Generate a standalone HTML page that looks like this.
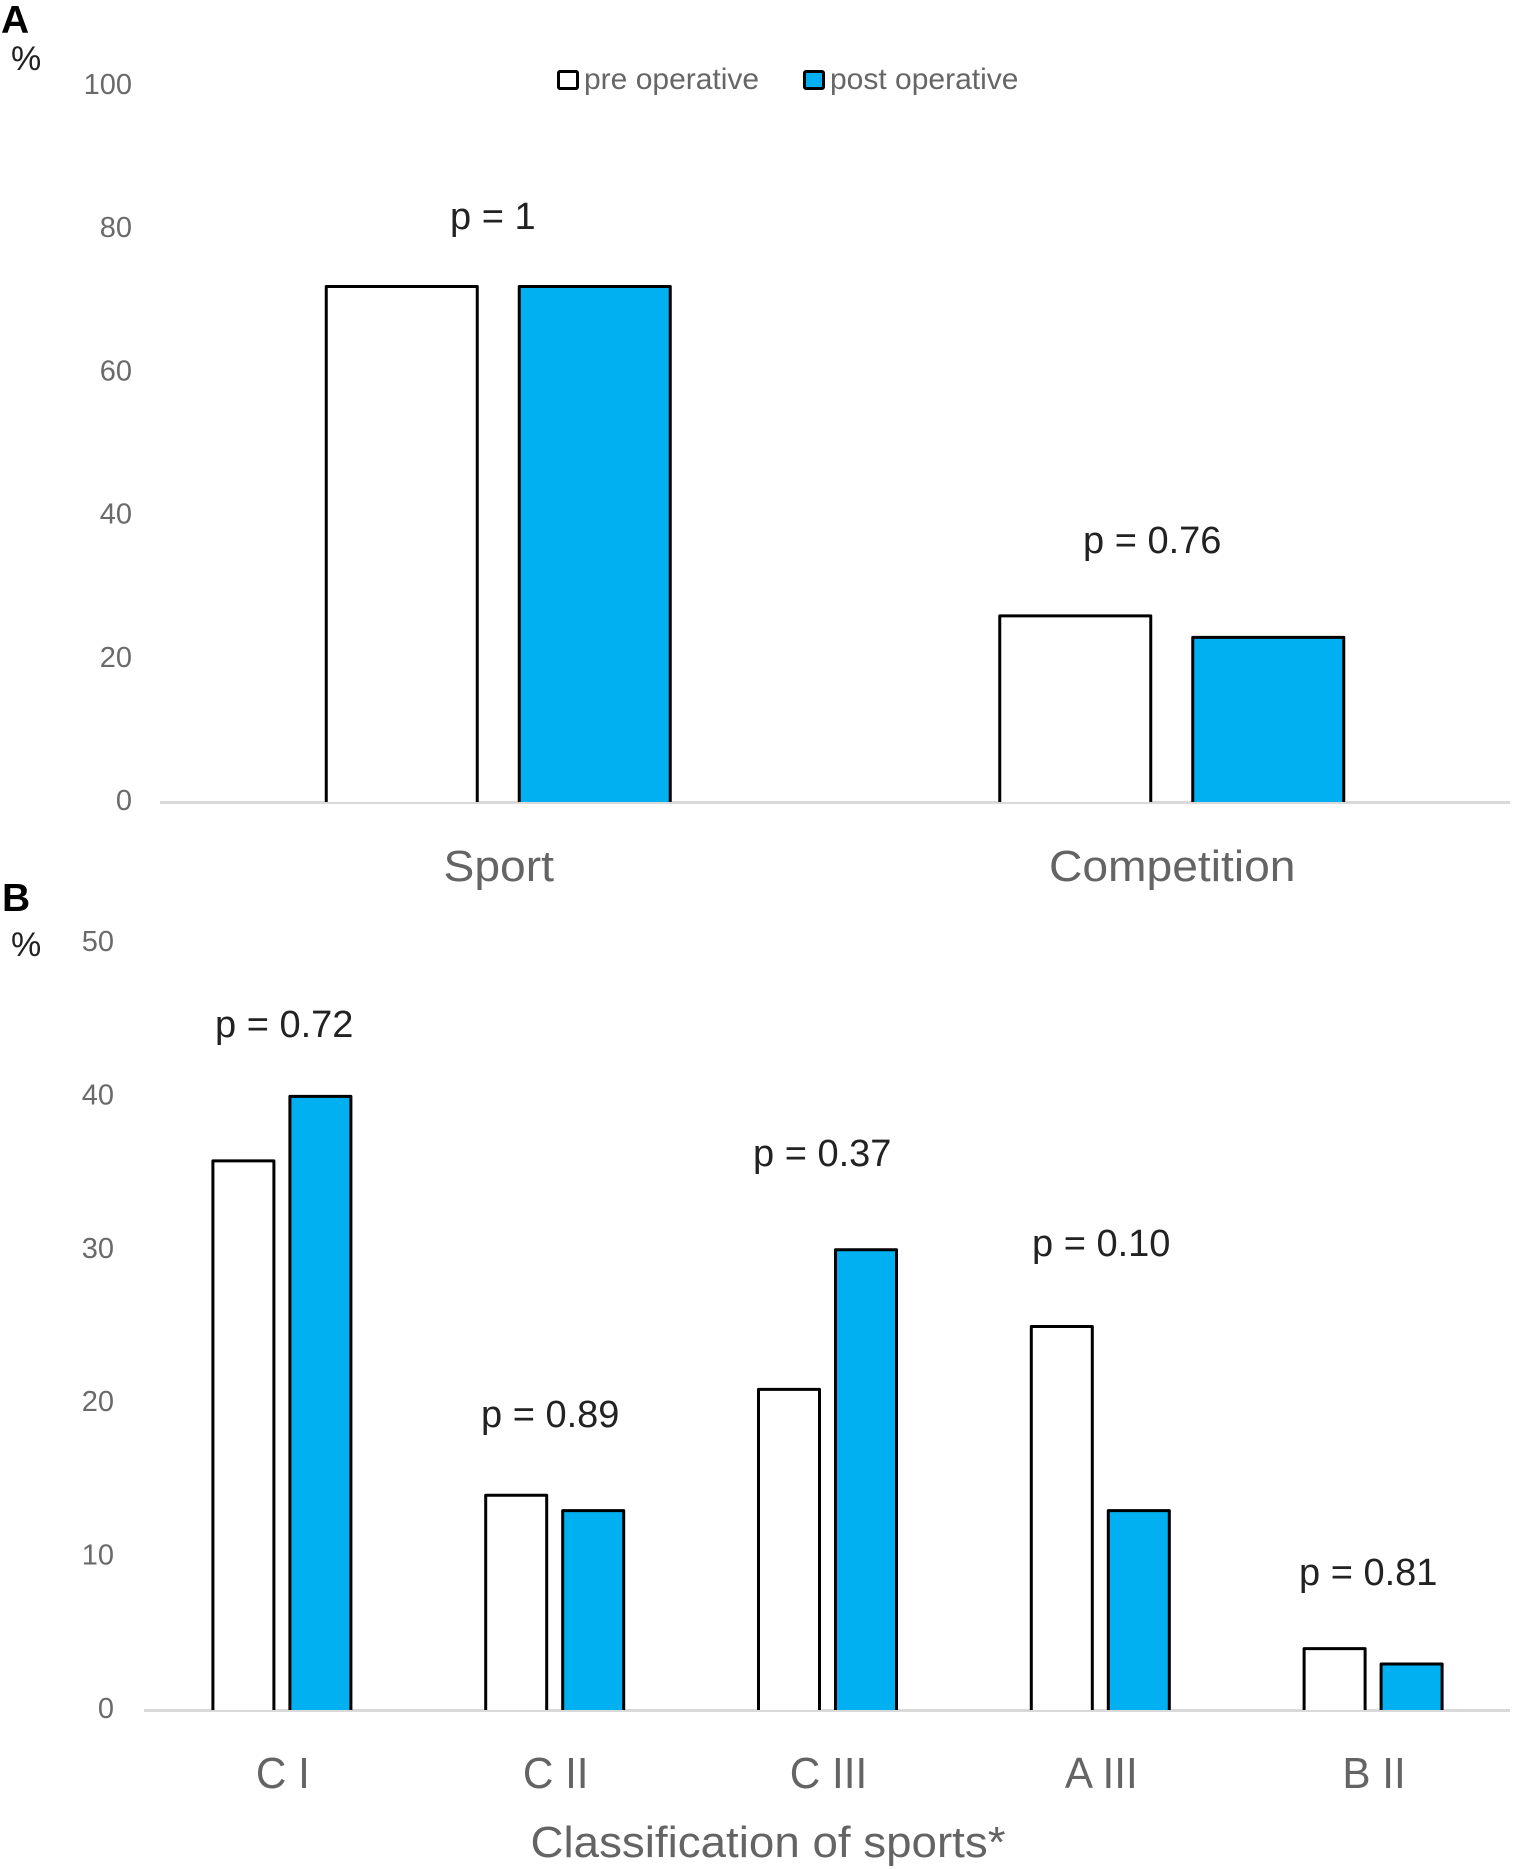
<!DOCTYPE html>
<html lang="en">
<head>
<meta charset="utf-8">
<title>Sport participation pre and post operative</title>
<style>
  html, body { margin: 0; padding: 0; background: #fff; }
  svg { display: block; }
  text { font-family: "Liberation Sans", sans-serif; }
  .tick { font-size: 29px; fill: #6a6a6a; text-anchor: end; }
  .cat { font-size: 44px; fill: #646464; text-anchor: middle; }
  .pval { font-size: 38px; fill: #222; }
  .leg { font-size: 30px; fill: #666; }
  .panel { font-size: 39px; font-weight: bold; fill: #000; }
  .unit { font-size: 34px; fill: #222; }
</style>
</head>
<body>
<svg id="figure" xmlns="http://www.w3.org/2000/svg" width="1514" height="1869" viewBox="0 0 1514 1869">
  <rect x="0" y="0" width="1514" height="1869" fill="#ffffff"/>

  <text class="panel" x="1" y="33">A</text>
  <text class="unit" x="11" y="70">%</text>
  <text class="panel" x="2" y="911">B</text>
  <text class="unit" x="11" y="956">%</text>

  <g>
    <rect x="558.5" y="71.5" width="19" height="17" fill="#ffffff" stroke="#000" stroke-width="3" rx="1.5"/>
    <text class="leg" x="584" y="89">pre operative</text>
    <rect x="804.5" y="71.5" width="19" height="17" fill="#00b0f0" stroke="#000" stroke-width="3" rx="1.5"/>
    <text class="leg" x="830" y="89">post operative</text>
  </g>

  <g id="panelA"></g>
  <g id="panelB"></g>

  <g>
    <text class="pval" x="450" y="229">p = 1</text>
    <text class="pval" x="1083" y="553">p = 0.76</text>
    <text class="pval" x="215" y="1037">p = 0.72</text>
    <text class="pval" x="481" y="1427">p = 0.89</text>
    <text class="pval" x="753" y="1166">p = 0.37</text>
    <text class="pval" x="1032" y="1256">p = 0.10</text>
    <text class="pval" x="1299" y="1585">p = 0.81</text>
  </g>

  <text class="cat" x="768" y="1857" textLength="475" lengthAdjust="spacingAndGlyphs">Classification of sports*</text>
</svg>

<script>
const categoriesA = ['Sport', 'Competition'];
const preA = [72, 26];
const postA = [72, 23];
const ticksA = [0, 20, 40, 60, 80, 100];

const categoriesB = ['C I', 'C II', 'C III', 'A III', 'B II'];
const preB = [35.8, 14, 20.9, 25, 4];
const postB = [40, 13, 30, 13, 3];
const ticksB = [0, 10, 20, 30, 40, 50];

const SVG_NS = 'http://www.w3.org/2000/svg';

function drawPanel(root, cfg, categories, pre, post, ticks) {
  const maxTick = ticks[ticks.length - 1];
  const yScale = v => cfg.y0 - (v / maxTick) * cfg.plotHeight;
  const band = (cfg.xEnd - cfg.xStart) / categories.length;
  const xCenter = i => cfg.xStart + band * (i + 0.5);

  ticks.forEach(t => {
    const label = document.createElementNS(SVG_NS, 'text');
    label.setAttribute('class', 'tick');
    label.setAttribute('x', cfg.tickRight);
    label.setAttribute('y', yScale(t) + 8);
    
    
    label.textContent = t;
    root.appendChild(label);
  });

  const axis = document.createElementNS(SVG_NS, 'line');
  axis.setAttribute('x1', cfg.axisLeft);
  axis.setAttribute('x2', 1510);
  axis.setAttribute('y1', cfg.y0 + 0.5);
  axis.setAttribute('y2', cfg.y0 + 0.5);
  axis.setAttribute('stroke', '#d9d9d9');
  axis.setAttribute('stroke-width', 3);
  
  
  root.appendChild(axis);

  categories.forEach((name, i) => {
    const c = xCenter(i);
    [[pre[i], c - cfg.gap / 2 - cfg.barWidth, '#ffffff', 'bar-pre-operative'],
     [post[i], c + cfg.gap / 2, '#00b0f0', 'bar-post-operative']].forEach(spec => {
      const top = yScale(spec[0]);
      const bar = document.createElementNS(SVG_NS, 'path');
      bar.setAttribute('d', 'M' + spec[1] + ' ' + cfg.y0 + 'V' + top + 'H' + (spec[1] + cfg.barWidth) + 'V' + cfg.y0);
      bar.setAttribute('fill', spec[2]);
      bar.setAttribute('stroke', '#000');
      bar.setAttribute('stroke-width', 3);
      bar.setAttribute('stroke-linejoin', 'round');
      
      
      root.appendChild(bar);
    });

    const label = document.createElementNS(SVG_NS, 'text');
    label.setAttribute('class', 'cat');
    label.setAttribute('x', c + cfg.catShift);
    label.setAttribute('y', cfg.catBaseline);
    
    
    label.textContent = name;
    root.appendChild(label);
    const measured = label.getComputedTextLength();
    label.setAttribute('textLength', measured * cfg.catFit);
    label.setAttribute('lengthAdjust', 'spacingAndGlyphs');
  });
}

drawPanel(document.getElementById('panelA'),
  { y0: 802, plotHeight: 716, xStart: 161.5, xEnd: 1508.5, barWidth: 151, gap: 42, tickRight: 132, axisLeft: 160, catBaseline: 881, catFit: 1.05, catShift: 0.5 },
  categoriesA, preA, postA, ticksA);

drawPanel(document.getElementById('panelB'),
  { y0: 1710, plotHeight: 767, xStart: 145.5, xEnd: 1509.5, barWidth: 61, gap: 16, tickRight: 114, axisLeft: 144, catBaseline: 1788, catFit: 0.96, catShift: 1 },
  categoriesB, preB, postB, ticksB);
</script>
</body>
</html>
